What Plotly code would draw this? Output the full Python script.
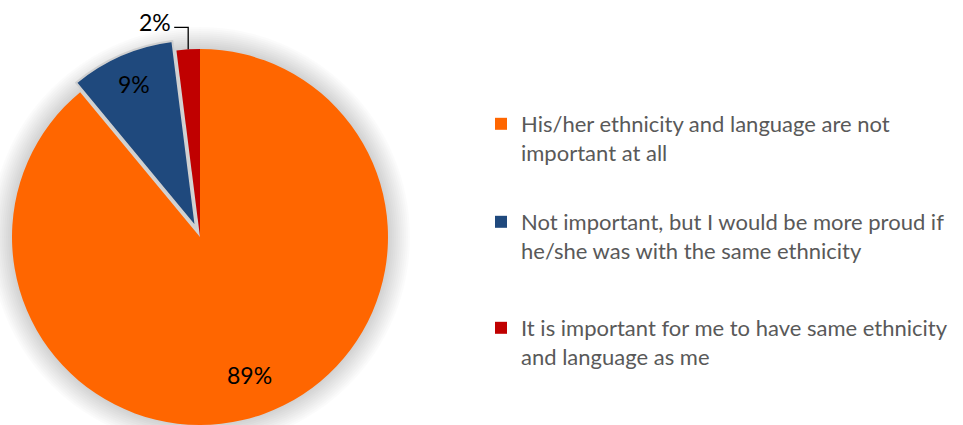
import math
import plotly.graph_objects as go

# Survey answers and their shares (%)
labels = [
    "His/her ethnicity and language are not<br>important at all",
    "Not important, but I would be more proud if<br>he/she was with the same ethnicity",
    "It is important for me to have same ethnicity<br>and language as me",
]
values = [89, 9, 2]
colors = ["#FF6600", "#1F497D", "#C00000"]
pulls = [0, 0.055, 0]
label_style = ["inside", "inside", "outside"]

W, H = 963, 425
R = 188            # pie radius in px
CX, CY = 200, 237  # pie centre in px (y from top)

total = sum(values)
mids = []
acc = 0.0
for v in values:
    mids.append((acc + v / 2) / total * 2 * math.pi)
    acc += v


def to_paper(x, y):
    return x / W, 1 - y / H


def domain_at(cx, cy, r):
    x0, y1 = to_paper(cx - r, cy - r)
    x1, y0 = to_paper(cx + r, cy + r)
    return dict(x=[max(0.0, x0), min(1.0, x1)], y=[max(0.0, y0), min(1.0, y1)])


fig = go.Figure()

# one pie layer per slice group: unpulled slices at the centre, pulled ones shifted
# along their bisector by pull * radius
for i in range(len(values)):
    if pulls[i] == 0 and any(pulls[j] == 0 for j in range(i)):
        continue
    group = [j for j in range(len(values)) if (pulls[j] == pulls[i])]
    shift = pulls[i] * R
    a = mids[i]
    cx = CX + shift * math.sin(a)
    cy = CY - shift * math.cos(a)
    fill = [colors[j] if j in group else "rgba(0,0,0,0)" for j in range(len(values))]
    lw = [2 if (j in group and pulls[j] > 0) else 0 for j in range(len(values))]
    fig.add_trace(go.Pie(
        labels=labels, values=values, sort=False, direction="clockwise", rotation=0,
        marker=dict(colors=fill, line=dict(color="#D0D0D0", width=lw)),
        textinfo="none", hoverinfo="skip", showlegend=False,
        domain=domain_at(cx, cy, R),
    ))

# legend entries, one legend box per answer
legend_tops = [103, 201, 307]
for i, (lab, col) in enumerate(zip(labels, colors)):
    fig.add_trace(go.Scatter(
        x=[None], y=[None], mode="markers", name=lab,
        marker=dict(symbol="square", size=12, color=col),
        legend="legend" if i == 0 else f"legend{i + 1}",
        hoverinfo="skip",
    ))

legend_font = dict(family="Lato, sans-serif", size=22, color="#595959")
legend_x = 481 / W
for i, top in enumerate(legend_tops):
    key = "legend" if i == 0 else f"legend{i + 1}"
    fig.update_layout({key: dict(
        x=legend_x, xanchor="left", y=1 - top / H, yanchor="top",
        valign="top", font=legend_font, bgcolor="rgba(0,0,0,0)",
        itemclick=False, itemdoubleclick=False,
    )})

# soft glow around the pie
glow_n = 11
for k in range(glow_n, 0, -1):
    rr = R + 2 * k
    x0, y1 = to_paper(CX - rr, CY - rr)
    x1, y0 = to_paper(CX + rr, CY + rr)
    fig.add_shape(type="circle", xref="paper", yref="paper",
                  x0=x0, x1=x1, y0=y0, y1=y1, layer="below",
                  fillcolor="rgba(0,0,0,0.016)", line=dict(width=0))

# value labels
label_font = dict(family="Lato, sans-serif", size=23, color="black")
inside_frac = [0.78, 0.83, None]
for i, v in enumerate(values):
    a = mids[i]
    if label_style[i] == "inside":
        d = inside_frac[i] * R + pulls[i] * R
        xp, yp = to_paper(CX + d * math.sin(a), CY - d * math.cos(a))
        fig.add_annotation(x=xp, y=yp, xref="paper", yref="paper", text=f"{v}%",
                           xanchor="center", yanchor="middle",
                           showarrow=False, font=label_font)
    else:
        ex, ey = CX + R * math.sin(a), CY - R * math.cos(a)
        top = ey - 22
        left = ex - 14
        x1, y1 = to_paper(ex, ey)
        x2, y2 = to_paper(ex, top)
        x3, y3 = to_paper(left, top)
        fig.add_shape(type="path", xref="paper", yref="paper",
                      path=f"M {x1},{y1} L {x2},{y2} L {x3},{y3}",
                      line=dict(color="black", width=1.3))
        lx, ly = to_paper(left - 1, top - 5)
        fig.add_annotation(x=lx, y=ly, xref="paper", yref="paper", text=f"{v}%",
                           xanchor="right", yanchor="middle",
                           showarrow=False, font=label_font)

fig.update_xaxes(visible=False)
fig.update_yaxes(visible=False)
fig.update_layout(
    width=W, height=H,
    margin=dict(l=0, r=0, t=0, b=0),
    paper_bgcolor="white", plot_bgcolor="rgba(0,0,0,0)",
)

fig.write_html("out.html")
